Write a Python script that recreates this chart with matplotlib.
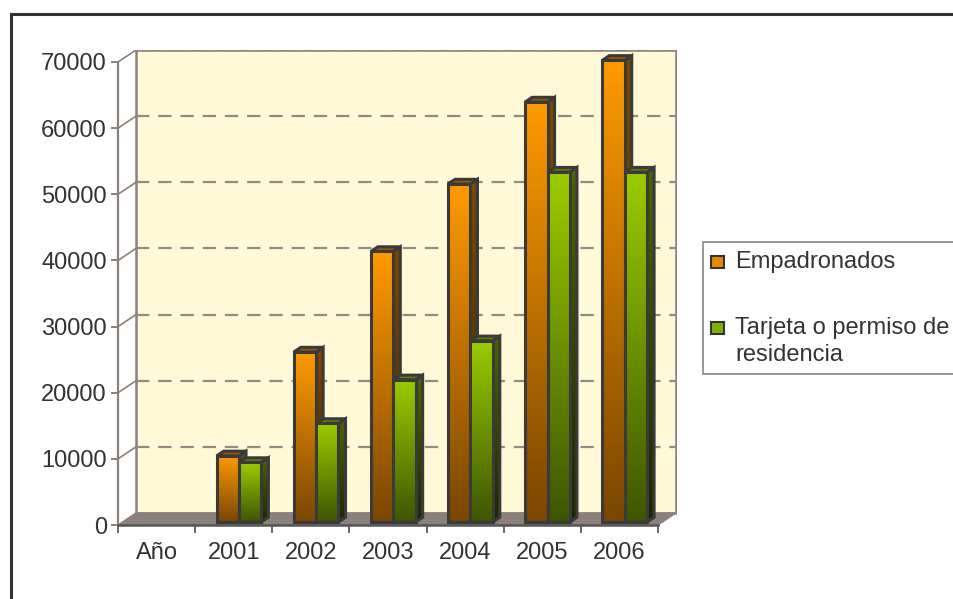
import matplotlib
matplotlib.use("Agg")
import matplotlib.pyplot as plt
import numpy as np
from matplotlib.colors import LinearSegmentedColormap
from matplotlib.patches import Polygon, Rectangle

plt.rcParams["font.family"] = ["Liberation Sans", "DejaVu Sans"]

categories = ["Año", "2001", "2002", "2003", "2004", "2005", "2006"]
empadronados = [0, 10000, 25700, 40900, 51100, 63500, 69800]
tarjeta = [0, 9000, 14900, 21500, 27400, 52900, 52900]
series_names = ["Empadronados", "Tarjeta o permiso de\nresidencia"]
y_ticks = list(range(0, 70001, 10000))

W, H = 954, 599
fig = plt.figure(figsize=(W / 100, H / 100), dpi=100)

# axes mapped to the front plane of the 3D box
x0_px, x1_px = 118, 677
y0_px, y1_px = 525, 50
ax = fig.add_axes([x0_px / W, 1 - y0_px / H, (x1_px - x0_px) / W, (y0_px - y1_px) / H])
n = len(categories)
px_per_cat = (658 - 118) / n
px_per_val = (525 - 62) / 70000
xlim = (0, (x1_px - x0_px) / px_per_cat)
ylim = (0, (y0_px - y1_px) / px_per_val)

DX = 18 / px_per_cat        # depth offset in category units
DY = 12 / px_per_val        # depth offset in value units

wall = "#8C807C"
ax.add_patch(Rectangle((DX, DY), n, 70000, facecolor="#FFF9D7",
                       edgecolor=wall, lw=1.8, zorder=1))
ax.add_patch(Polygon([(0, 0), (n, 0), (n + DX, DY), (DX, DY)], closed=True,
                     facecolor=wall, edgecolor=wall, lw=1, zorder=2))

for v in y_ticks[1:]:
    ax.plot([DX, DX + n], [v + DY, v + DY], color="#8F8C84", lw=1.6,
            dashes=(6, 4), zorder=1.5)
    ax.plot([0, DX], [v, v + DY], color=wall, lw=1.2, zorder=1.5)


def grad_fill(poly_pts, c_top, c_bot, z):
    cmap = LinearSegmentedColormap.from_list("g", [c_bot, c_top])
    pts = np.array(poly_pts)
    ext = [pts[:, 0].min(), pts[:, 0].max(), pts[:, 1].min(), pts[:, 1].max()]
    img = ax.imshow(np.linspace(0, 1, 256).reshape(-1, 1), cmap=cmap, origin="lower",
                    extent=ext, aspect="auto", zorder=z, interpolation="bilinear")
    clip = Polygon(poly_pts, closed=True, facecolor="none", edgecolor="#3A3A3A",
                   lw=2.2, zorder=z + 0.01, joinstyle="miter")
    ax.add_patch(clip)
    img.set_clip_path(clip)


def bar3d(x, w, h, front, side, top, z):
    f0, f1 = 0.25, 0.64
    bx, by = DX * f0, DY * f0
    dx, dy = DX * (f1 - f0), DY * (f1 - f0)
    fx, fy = x + bx, by
    face = [(fx, fy), (fx + w, fy), (fx + w, fy + h), (fx, fy + h)]
    sidep = [(fx + w, fy), (fx + w + dx, fy + dy), (fx + w + dx, fy + h + dy), (fx + w, fy + h)]
    topp = [(fx, fy + h), (fx + w, fy + h), (fx + w + dx, fy + h + dy), (fx + dx, fy + h + dy)]
    grad_fill(sidep, side[0], side[1], z)
    ax.add_patch(Polygon(topp, closed=True, facecolor=top, edgecolor="#3A3A3A",
                         lw=2.2, zorder=z + 0.02, joinstyle="miter"))
    grad_fill(face, front[0], front[1], z + 0.03)


bw = 0.29
z = 3
for i in range(n):
    left = i + 0.51 - bw
    if empadronados[i] > 0:
        bar3d(left, bw, empadronados[i], ("#FF9A00", "#7A4600"),
              ("#7C4A00", "#3E2500"), "#9A5C00", z)
        z += 0.1
    if tarjeta[i] > 0:
        bar3d(left + bw, bw, tarjeta[i], ("#9ACC00", "#3E5500"),
              ("#4C6600", "#1C2600"), "#5F8000", z)
        z += 0.1

ax.set_xlim(*xlim)
ax.set_ylim(*ylim)
ax.patch.set_visible(False)
for s in ("top", "right"):
    ax.spines[s].set_visible(False)
ax.spines["left"].set_bounds(0, 70000)
ax.spines["left"].set_color(wall)
ax.spines["left"].set_linewidth(1.6)
ax.spines["bottom"].set_bounds(0, n)
ax.spines["bottom"].set_color("#555555")
ax.spines["bottom"].set_linewidth(1.8)
ax.spines["bottom"].set_zorder(10)

ax.set_yticks(y_ticks)
ax.set_yticklabels([str(v) for v in y_ticks])
ax.tick_params(axis="y", direction="out", length=5, width=1.4, color=wall,
               pad=3, labelsize=17, labelcolor="#333333")
ax.set_xticks(range(n + 1))
ax.set_xticklabels([])
ax.set_xticks([i + 0.5 for i in range(n)], minor=True)
ax.set_xticklabels(categories, minor=True)
ax.tick_params(axis="x", which="major", direction="out", length=6, width=1.4,
               color="#666666")
ax.tick_params(axis="x", which="minor", length=0, pad=12, labelsize=17,
               labelcolor="#333333")

# legend box, drawn by hand: the marker sits on the first line of the label
fig.patches.append(Rectangle((703 / W, 1 - 374 / H), 0.4, 132 / H,
                             transform=fig.transFigure, facecolor="white",
                             edgecolor="#888888", lw=1.2))
legend_rows = [262, 328]
legend_colors = ["#E88A00", "#7FB000"]
for name, yc, col in zip(series_names, legend_rows, legend_colors):
    fig.patches.append(Rectangle((711 / W, 1 - (yc + 6) / H), 13 / W, 12 / H,
                                 transform=fig.transFigure, facecolor=col,
                                 edgecolor="#333333", lw=1.5))
    for k, line in enumerate(name.split("\n")):
        fig.text(735 / W, 1 - (yc + 27 * k) / H, line, fontsize=17,
                 color="#333333", va="center", ha="left")

fig.patches.append(Rectangle((11 / W, -0.1), 1.2, 1 - 14 / H + 0.1,
                             transform=fig.transFigure, fill=False,
                             edgecolor="#333333", lw=2.2))

fig.savefig("out.png", dpi=100)
